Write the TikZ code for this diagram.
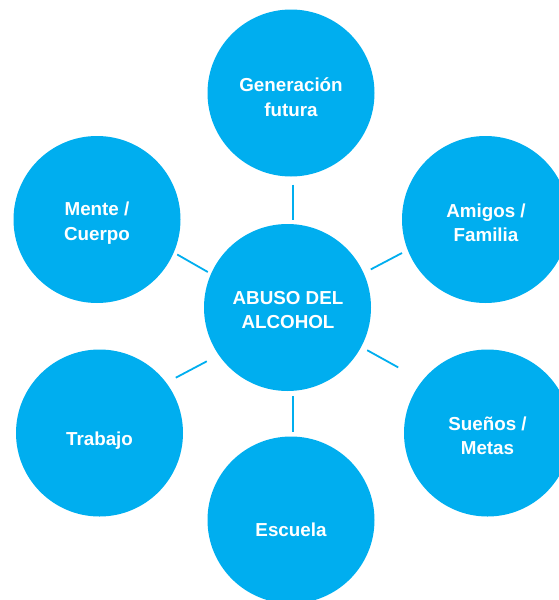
\documentclass[tikz,border=0pt]{standalone}
\usepackage{fontspec}
\setmainfont{Liberation Sans}
\definecolor{cblue}{RGB}{0,174,239}
\begin{document}
\begin{tikzpicture}[x=1pt,y=-1pt,
  bubble/.style={circle,fill=cblue,minimum size=167pt,inner sep=0pt},
  btext/.style={text=white,font=\fontsize{18.8}{24.5}\selectfont\bfseries,align=center,inner sep=0pt},
  link/.style={draw=cblue,line width=1.8pt}]
\useasboundingbox (0,0) rectangle (559,600);
\clip (0,0) rectangle (559,600);
\node[bubble] (top) at (291,93) {};
\node[bubble] (center) at (287.5,307.5) {};
\node[bubble] (tl) at (97,219.5) {};
\node[bubble] (tr) at (485.5,219.5) {};
\node[bubble] (bl) at (99.5,433) {};
\node[bubble] (br) at (487.5,433) {};
\node[bubble] (bot) at (291,520) {};
\node[btext] (toptext) at (291,97) {Generación\\futura};
\node[btext] (centertext) at (288,310) {ABUSO DEL\\ALCOHOL};
\node[btext] (tltext) at (97,223) {Mente /\\Cuerpo};
\node[btext] (trtext) at (486,223) {Amigos /\\Familia};
\node[btext] (bltext) at (99.5,441) {Trabajo};
\node[btext] (brtext) at (487.5,436) {Sueños /\\Metas};
\node[btext] (bottext) at (291,530) {Escuela};
\coordinate (a1) at (293,184.5); \coordinate (a2) at (293,220);
\coordinate (b1) at (177.2,254.5); \coordinate (b2) at (207.8,272);
\coordinate (c1) at (370.8,269.4); \coordinate (c2) at (402,253);
\coordinate (d1) at (175.8,377.7); \coordinate (d2) at (206.8,361.3);
\coordinate (e1) at (367.2,350.2); \coordinate (e2) at (398.2,367.4);
\coordinate (f1) at (293,396); \coordinate (f2) at (293,431.5);
\draw[link] (a1) -- (a2);
\draw[link] (b1) -- (b2);
\draw[link] (c1) -- (c2);
\draw[link] (d1) -- (d2);
\draw[link] (e1) -- (e2);
\draw[link] (f1) -- (f2);
\end{tikzpicture}
\end{document}
